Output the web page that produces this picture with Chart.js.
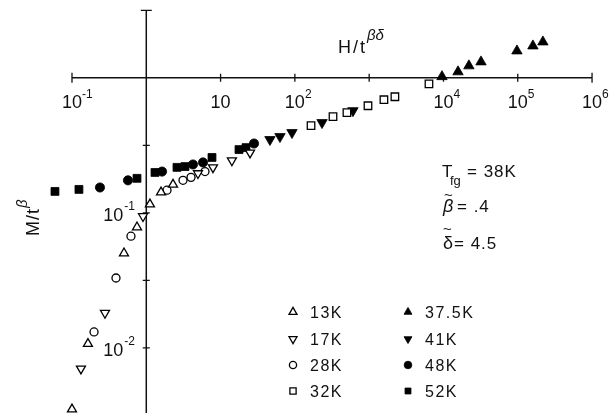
<!DOCTYPE html>
<html>
<head>
<meta charset="utf-8">
<script src="https://cdn.jsdelivr.net/npm/chart.js@4.4.1/dist/chart.umd.min.js"></script>
<style>
  html, body { margin: 0; padding: 0; background: #fff; }
  #wrap { width: 613px; height: 413px; }
</style>
</head>
<body>
<div id="wrap"><canvas id="c" width="613" height="413"></canvas></div>
<script>
// Scaled magnetization M/t^β against scaled field H/t^βδ, one series per temperature.
const seriesLabels = ['13K', '17K', '28K', '32K', '37.5K', '41K', '48K', '52K'];

const h13 = [0.100, 0.164, 0.501, 0.75, 1.12, 1.58, 2.29];
const m13 = [0.0035, 0.0107, 0.0502, 0.0782, 0.1156, 0.1417, 0.162];

const h17 = [0.132, 0.278, 0.903, 4.96, 7.90, 14.2, 24.9];
const m17 = [0.0070, 0.0181, 0.0942, 0.196, 0.217, 0.244, 0.279];

const h28 = [0.198, 0.391, 0.622, 1.90, 3.12, 4.00, 6.17];
const m28 = [0.0131, 0.0329, 0.0671, 0.147, 0.174, 0.183, 0.202];

const h32 = [165, 326, 502, 964, 1580, 2220, 6380];
const m32 = [0.442, 0.515, 0.552, 0.621, 0.688, 0.724, 0.903];

const h375 = [9550, 15700, 22000, 32000, 97500, 160000, 218000];
const m375 = [1.02, 1.107, 1.226, 1.312, 1.582, 1.722, 1.844];

const h41 = [46.2, 63.0, 91.4, 232, 605];
const m41 = [0.349, 0.367, 0.393, 0.466, 0.571];

const h48 = [0.238, 0.567, 1.63, 4.25, 5.80, 28.2];
const m48 = [0.154, 0.174, 0.202, 0.228, 0.236, 0.326];

const h52 = [0.059, 0.124, 0.75, 1.31, 2.59, 3.32, 7.66, 17.7, 22.0];
const m52 = [0.144, 0.149, 0.180, 0.199, 0.217, 0.220, 0.257, 0.294, 0.304];

// Axis ticks: value, base text and exponent text ('' = tick without label)
const xTickValues = [0.1, 1, 10, 100, 1000, 1e4, 1e5, 1e6];
const xTickBase   = ['10', '', '10', '10', '', '10', '10', '10'];
const xTickExp    = ['-1', '', '', '2', '', '4', '5', '6'];
const yTickValues = [3.162, 1, 0.3162, 0.1, 0.03162, 0.01];
const yTickBase   = ['', '', '', '10', '', '10'];
const yTickExp    = ['', '', '', '-1', '', '-2'];

const FONT = '"Liberation Sans", Arial, sans-serif';

function pts(xs, ys) { return xs.map((x, i) => ({ x: x, y: ys[i] })); }

function style(pointStyle, filled, radius, rotation) {
  return {
    pointStyle: pointStyle,
    pointRadius: radius,
    pointHoverRadius: radius,
    pointRotation: rotation || 0,
    pointBackgroundColor: filled ? '#000' : '#fff',
    pointBorderColor: '#000',
    pointBorderWidth: filled ? 0.8 : 1.3,
    showLine: false,
    clip: false
  };
}

const datasets = [
  Object.assign({ label: seriesLabels[0], data: pts(h13, m13) },  style('triangle', false, 5.2)),
  Object.assign({ label: seriesLabels[1], data: pts(h17, m17) },  style('triangle', false, 5.2, 180)),
  Object.assign({ label: seriesLabels[2], data: pts(h28, m28) },  style('circle', false, 4)),
  Object.assign({ label: seriesLabels[3], data: pts(h32, m32) },  style('rect', false, 5.3)),
  Object.assign({ label: seriesLabels[4], data: pts(h375, m375) }, style('triangle', true, 6)),
  Object.assign({ label: seriesLabels[5], data: pts(h41, m41) },  style('triangle', true, 6, 180)),
  Object.assign({ label: seriesLabels[6], data: pts(h48, m48) },  style('circle', true, 4.6)),
  Object.assign({ label: seriesLabels[7], data: pts(h52, m52) },  style('rect', true, 5.6))
];

function drawMarker(ctx, ds, r, x, y) {
  ctx.save();
  ctx.fillStyle = ds.pointBackgroundColor;
  ctx.strokeStyle = ds.pointBorderColor;
  ctx.lineWidth = ds.pointBorderWidth;
  const opts = { pointStyle: ds.pointStyle, radius: r, rotation: ds.pointRotation, borderWidth: ds.pointBorderWidth };
  if (Chart.helpers && Chart.helpers.drawPoint) {
    Chart.helpers.drawPoint(ctx, opts, x, y);
  } else {
    ctx.beginPath();
    if (ds.pointStyle === 'circle') ctx.arc(x, y, r, 0, Math.PI * 2);
    else if (ds.pointStyle === 'rect') { const s = r * Math.SQRT1_2; ctx.rect(x - s, y - s, 2 * s, 2 * s); }
    else {
      const d = ds.pointRotation ? -1 : 1;
      ctx.moveTo(x, y - d * r);
      ctx.lineTo(x + r * 0.866, y + d * r / 2);
      ctx.lineTo(x - r * 0.866, y + d * r / 2);
      ctx.closePath();
    }
    ctx.fill(); ctx.stroke();
  }
  ctx.restore();
}

const axesPlugin = {
  id: 'crossAxes',
  beforeDatasetsDraw(chart) {
    const ctx = chart.ctx, xs = chart.scales.x, ys = chart.scales.y;
    const y0 = ys.getPixelForValue(1), x0 = xs.getPixelForValue(1);
    const xl = xs.getPixelForValue(xTickValues[0]);
    const xr = xs.getPixelForValue(xTickValues[xTickValues.length - 1]);
    const yt = ys.getPixelForValue(yTickValues[0]);
    ctx.save();
    ctx.strokeStyle = '#111';
    ctx.lineWidth = 1.5;
    ctx.beginPath();
    ctx.moveTo(xl, y0); ctx.lineTo(xr, y0);
    ctx.moveTo(x0, yt); ctx.lineTo(x0, chart.height + 2);
    ctx.stroke();
    ctx.lineWidth = 1.3;
    ctx.beginPath();
    xTickValues.forEach((v) => {
      if (v === 1) return;
      const px = xs.getPixelForValue(v);
      const h = (v === xTickValues[0] || v === xTickValues[xTickValues.length - 1]) ? 5 : 4;
      ctx.moveTo(px, y0 - h); ctx.lineTo(px, y0 + h);
    });
    yTickValues.forEach((v, i) => {
      if (v === 1) return;
      const py = ys.getPixelForValue(v);
      const w = i === 0 ? 5.5 : 3.5;
      ctx.moveTo(x0 - w, py); ctx.lineTo(x0 + w, py);
    });
    ctx.stroke();

    // tick labels with exponents
    ctx.fillStyle = '#111';
    ctx.textBaseline = 'alphabetic';
    xTickValues.forEach((v, i) => {
      if (!xTickBase[i]) return;
      const px = xs.getPixelForValue(v);
      ctx.font = '18px ' + FONT;
      ctx.textAlign = 'center';
      ctx.fillText(xTickBase[i], px, y0 + 30);
      const w = ctx.measureText(xTickBase[i]).width;
      if (xTickExp[i]) {
        ctx.font = '12px ' + FONT;
        ctx.textAlign = 'left';
        ctx.fillText(xTickExp[i], px + w / 2, y0 + 20);
      }
    });
    yTickValues.forEach((v, i) => {
      if (!yTickBase[i]) return;
      const py = ys.getPixelForValue(v);
      ctx.font = '18px ' + FONT;
      ctx.textAlign = 'right';
      ctx.fillText(yTickBase[i], x0 - 23, py + 8);
      ctx.font = '12px ' + FONT;
      ctx.textAlign = 'left';
      ctx.fillText(yTickExp[i], x0 - 22, py - 3);
    });

    // axis titles
    ctx.textAlign = 'left';
    ctx.font = '18px ' + FONT;
    ctx.letterSpacing = '2px';
    ctx.fillText('H/t', 338, 53);
    const hw = ctx.measureText('H/t').width;
    ctx.letterSpacing = '0px';
    ctx.font = 'italic 15px ' + FONT;
    ctx.fillText('βδ', 338 + hw, 40);

    ctx.save();
    ctx.translate(39, 236);
    ctx.rotate(-Math.PI / 2);
    ctx.font = '18px ' + FONT;
    ctx.letterSpacing = '1px';
    ctx.fillText('M/t', 0, 0);
    const mw = ctx.measureText('M/t').width;
    ctx.letterSpacing = '0px';
    ctx.font = 'italic 15px ' + FONT;
    ctx.fillText('β', mw, -12);
    ctx.restore();
    ctx.restore();
  },
  afterDraw(chart) {
    const ctx = chart.ctx;
    ctx.save();
    ctx.fillStyle = '#111';
    ctx.textBaseline = 'alphabetic';
    ctx.textAlign = 'left';

    // scaling parameters
    ctx.font = '17px ' + FONT;
    ctx.fillText('T', 442, 177);
    ctx.font = '13px ' + FONT;
    ctx.fillText('fg', 450, 185);
    ctx.font = '17px ' + FONT;
    ctx.letterSpacing = '1px';
    ctx.fillText('= 38K', 467, 177);
    ctx.letterSpacing = '0px';

    ctx.font = 'italic 18px ' + FONT;
    ctx.fillText('β', 443, 212);
    ctx.font = '15px ' + FONT;
    ctx.fillText('~', 444, 200);
    ctx.font = '17px ' + FONT;
    ctx.letterSpacing = '1px';
    ctx.fillText('= .4', 457, 212);
    ctx.letterSpacing = '0px';

    ctx.font = '18px ' + FONT;
    ctx.fillText('δ', 443, 249);
    ctx.font = '15px ' + FONT;
    ctx.fillText('~', 443, 234);
    ctx.font = '17px ' + FONT;
    ctx.letterSpacing = '1px';
    ctx.fillText('= 4.5', 454, 249);
    ctx.letterSpacing = '0px';

    // two-column key
    const cols = [{ mx: 293, tx: 310 }, { mx: 408, tx: 425 }];
    const rows = [312, 339, 365, 391];
    const sizes = [4.6, 4.6, 3.6, 4.4, 4.6, 4.6, 3.8, 4.2];
    chart.data.datasets.forEach((ds, i) => {
      const c = cols[Math.floor(i / 4)], ry = rows[i % 4];
      drawMarker(ctx, ds, sizes[i], c.mx, ry);
      ctx.fillStyle = '#111';
      ctx.font = '16px ' + FONT;
      ctx.letterSpacing = '1.5px';
      ctx.fillText(ds.label, c.tx, ry + 6);
      ctx.letterSpacing = '0px';
    });
    ctx.restore();
  }
};

new Chart(document.getElementById('c').getContext('2d'), {
  type: 'scatter',
  data: { datasets: datasets },
  options: {
    responsive: false,
    animation: false,
    devicePixelRatio: 1,
    layout: { padding: 0, autoPadding: false },
    plugins: { legend: { display: false }, tooltip: { enabled: false } },
    scales: {
      x: { type: 'logarithmic', display: false, min: Math.pow(10, -1.969), max: Math.pow(10, 6.282) },
      y: { type: 'logarithmic', display: false, min: Math.pow(10, -2.483), max: Math.pow(10, 0.5763) }
    }
  },
  plugins: [axesPlugin]
});
</script>
</body>
</html>
